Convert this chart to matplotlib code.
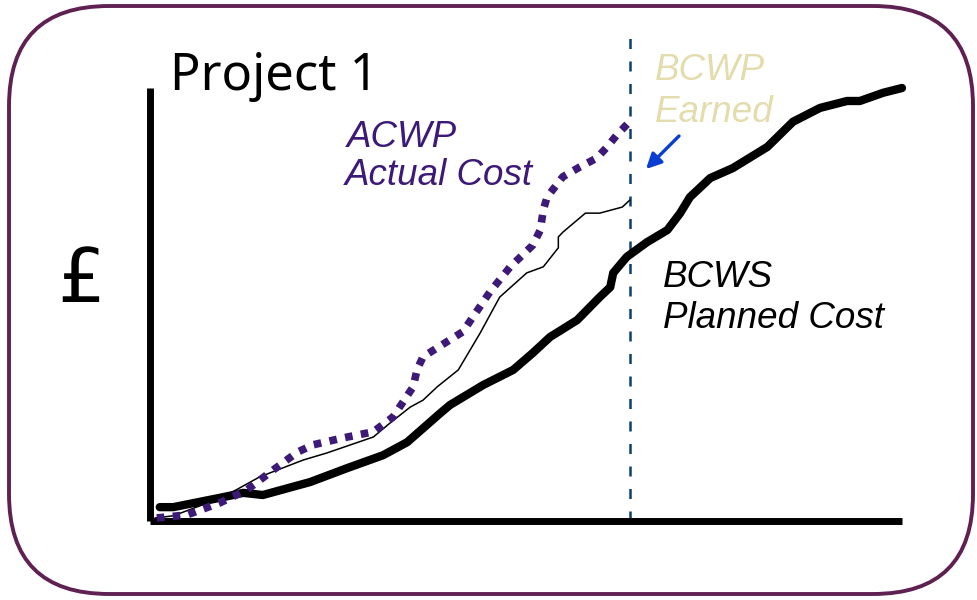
import matplotlib
matplotlib.use("Agg")
import matplotlib.pyplot as plt
from matplotlib.patches import FancyBboxPatch

# Time axis (0-100 % of project duration) and cost (0-100 % of budget)
bcws_t = [1.3, 3.1, 9.7, 12.4, 15.0, 21.3, 26.2, 31.0, 34.2, 38.6, 39.9, 44.3,
          48.3, 50.9, 53.2, 56.8, 59.8, 61.2, 61.6, 63.4, 66.1, 68.8, 70.5,
          71.8, 74.5, 77.5, 82.1, 85.5, 89.1, 92.7, 94.4, 97.5, 100.0]
bcws_c = [3.2, 3.2, 5.5, 6.5, 6.0, 9.0, 12.2, 15.2, 18.2, 24.9, 26.8, 31.4,
          34.9, 38.8, 42.5, 46.4, 51.7, 54.0, 57.3, 61.0, 64.4, 67.2, 71.1,
          74.8, 79.2, 81.5, 86.4, 92.2, 95.4, 97.0, 97.0, 98.9, 100.0]

bcwp_t = [0.7, 3.1, 9.7, 14.6, 20.4, 23.5, 29.7, 31.9, 34.6, 36.3, 38.2, 41.0,
          43.9, 46.5, 50.1, 52.3, 54.3, 54.3, 54.9, 57.9, 59.8, 62.8, 63.8]
bcwp_c = [0.7, 1.2, 5.5, 10.2, 14.1, 15.7, 19.4, 22.6, 26.3, 27.9, 31.0, 34.9,
          43.4, 51.7, 57.3, 58.7, 63.1, 65.6, 66.7, 71.1, 71.1, 72.5, 74.1]

acwp_t = [0.9, 4.9, 9.3, 12.9, 16.4, 19.6, 21.7, 25.7, 29.7, 32.3, 35.0, 35.5,
          36.3, 38.2, 41.6, 45.2, 47.9, 50.9, 51.9, 52.3, 52.8, 54.9, 57.2,
          59.4, 60.8, 62.1, 63.6]
acwp_c = [0.7, 1.4, 4.2, 7.2, 11.8, 15.9, 17.6, 19.2, 20.6, 24.0, 31.0, 34.9,
          37.9, 40.0, 43.7, 52.9, 58.7, 63.7, 67.2, 71.8, 74.8, 79.5, 81.8,
          83.8, 86.4, 89.2, 91.9]

status_date = 63.8

title = "Project 1"
y_label = "£"
acwp_label = ["ACWP", "Actual Cost"]
bcwp_label = ["BCWP", "Earned"]
bcws_label = ["BCWS", "Planned Cost"]

W, H = 977, 600
fig = plt.figure(figsize=(W / 100, H / 100), dpi=100)

# Full-figure overlay in pixel units for the frame and annotations
ov = fig.add_axes([0, 0, 1, 1])
ov.set_xlim(0, W)
ov.set_ylim(H, 0)
ov.axis("off")

frame = FancyBboxPatch((9 + 100, 6 + 100), 964 - 200, 588 - 200,
                       boxstyle="round,pad=100",
                       linewidth=2.8, edgecolor="#5e2152", facecolor="none",
                       transform=ov.transData, mutation_aspect=1)
ov.add_patch(frame)

# Chart area
left, right, top, bottom = 150, 902, 88, 521
ax = fig.add_axes([left / W, (H - bottom) / H, (right - left) / W, (bottom - top) / H])
ax.set_xlim(0, 100)
ax.set_ylim(0, 100)
ax.patch.set_alpha(0)
for s in ("top", "right"):
    ax.spines[s].set_visible(False)
for s in ("left", "bottom"):
    ax.spines[s].set_linewidth(5)
    ax.spines[s].set_color("black")
    ax.spines[s].set_capstyle("butt")
ax.set_xticks([])
ax.set_yticks([])

ax.plot(bcws_t, bcws_c, color="black", lw=6, solid_capstyle="round",
        solid_joinstyle="round", clip_on=False, zorder=3)
ax.plot(bcwp_t, bcwp_c, color="black", lw=1.1, clip_on=False, zorder=4)
ax.plot(acwp_t, acwp_c, color="#3d1a78", lw=5.5, linestyle=(0, (1.0, 1.1)),
        dash_capstyle="butt", clip_on=False, zorder=5)

ax.plot([status_date, status_date], [0, 113], color="#0d3f6e", lw=1.8,
        linestyle=(0, (4, 5)), clip_on=False, zorder=2)

# Text labels
ov.text(170, 90, title, fontsize=36.5, family="Noto Sans", va="baseline",
        ha="left", color="black")
ov.text(81, 302, y_label, fontsize=54, family="DejaVu Sans", va="baseline",
        ha="center", color="black")

lab_kw = dict(fontsize=26.5, family="Liberation Sans", style="italic",
              va="baseline", ha="left")
ov.text(347, 147, acwp_label[0], color="#3d1a78", **lab_kw)
ov.text(345, 185, acwp_label[1], color="#3d1a78", **lab_kw)
ov.text(655, 80, bcwp_label[0], color="#e3dcad", **lab_kw)
ov.text(655, 122, bcwp_label[1], color="#e3dcad", **lab_kw)
ov.text(663, 287, bcws_label[0], color="black", **lab_kw)
ov.text(663, 328, bcws_label[1], color="black", **lab_kw)

ov.annotate("", xy=(646, 169), xytext=(679, 136),
            arrowprops=dict(arrowstyle="-|>,head_length=0.9,head_width=0.45",
                            color="#0a3dd1", lw=2.4, shrinkA=0, shrinkB=0))

fig.savefig("out.png", dpi=100)
